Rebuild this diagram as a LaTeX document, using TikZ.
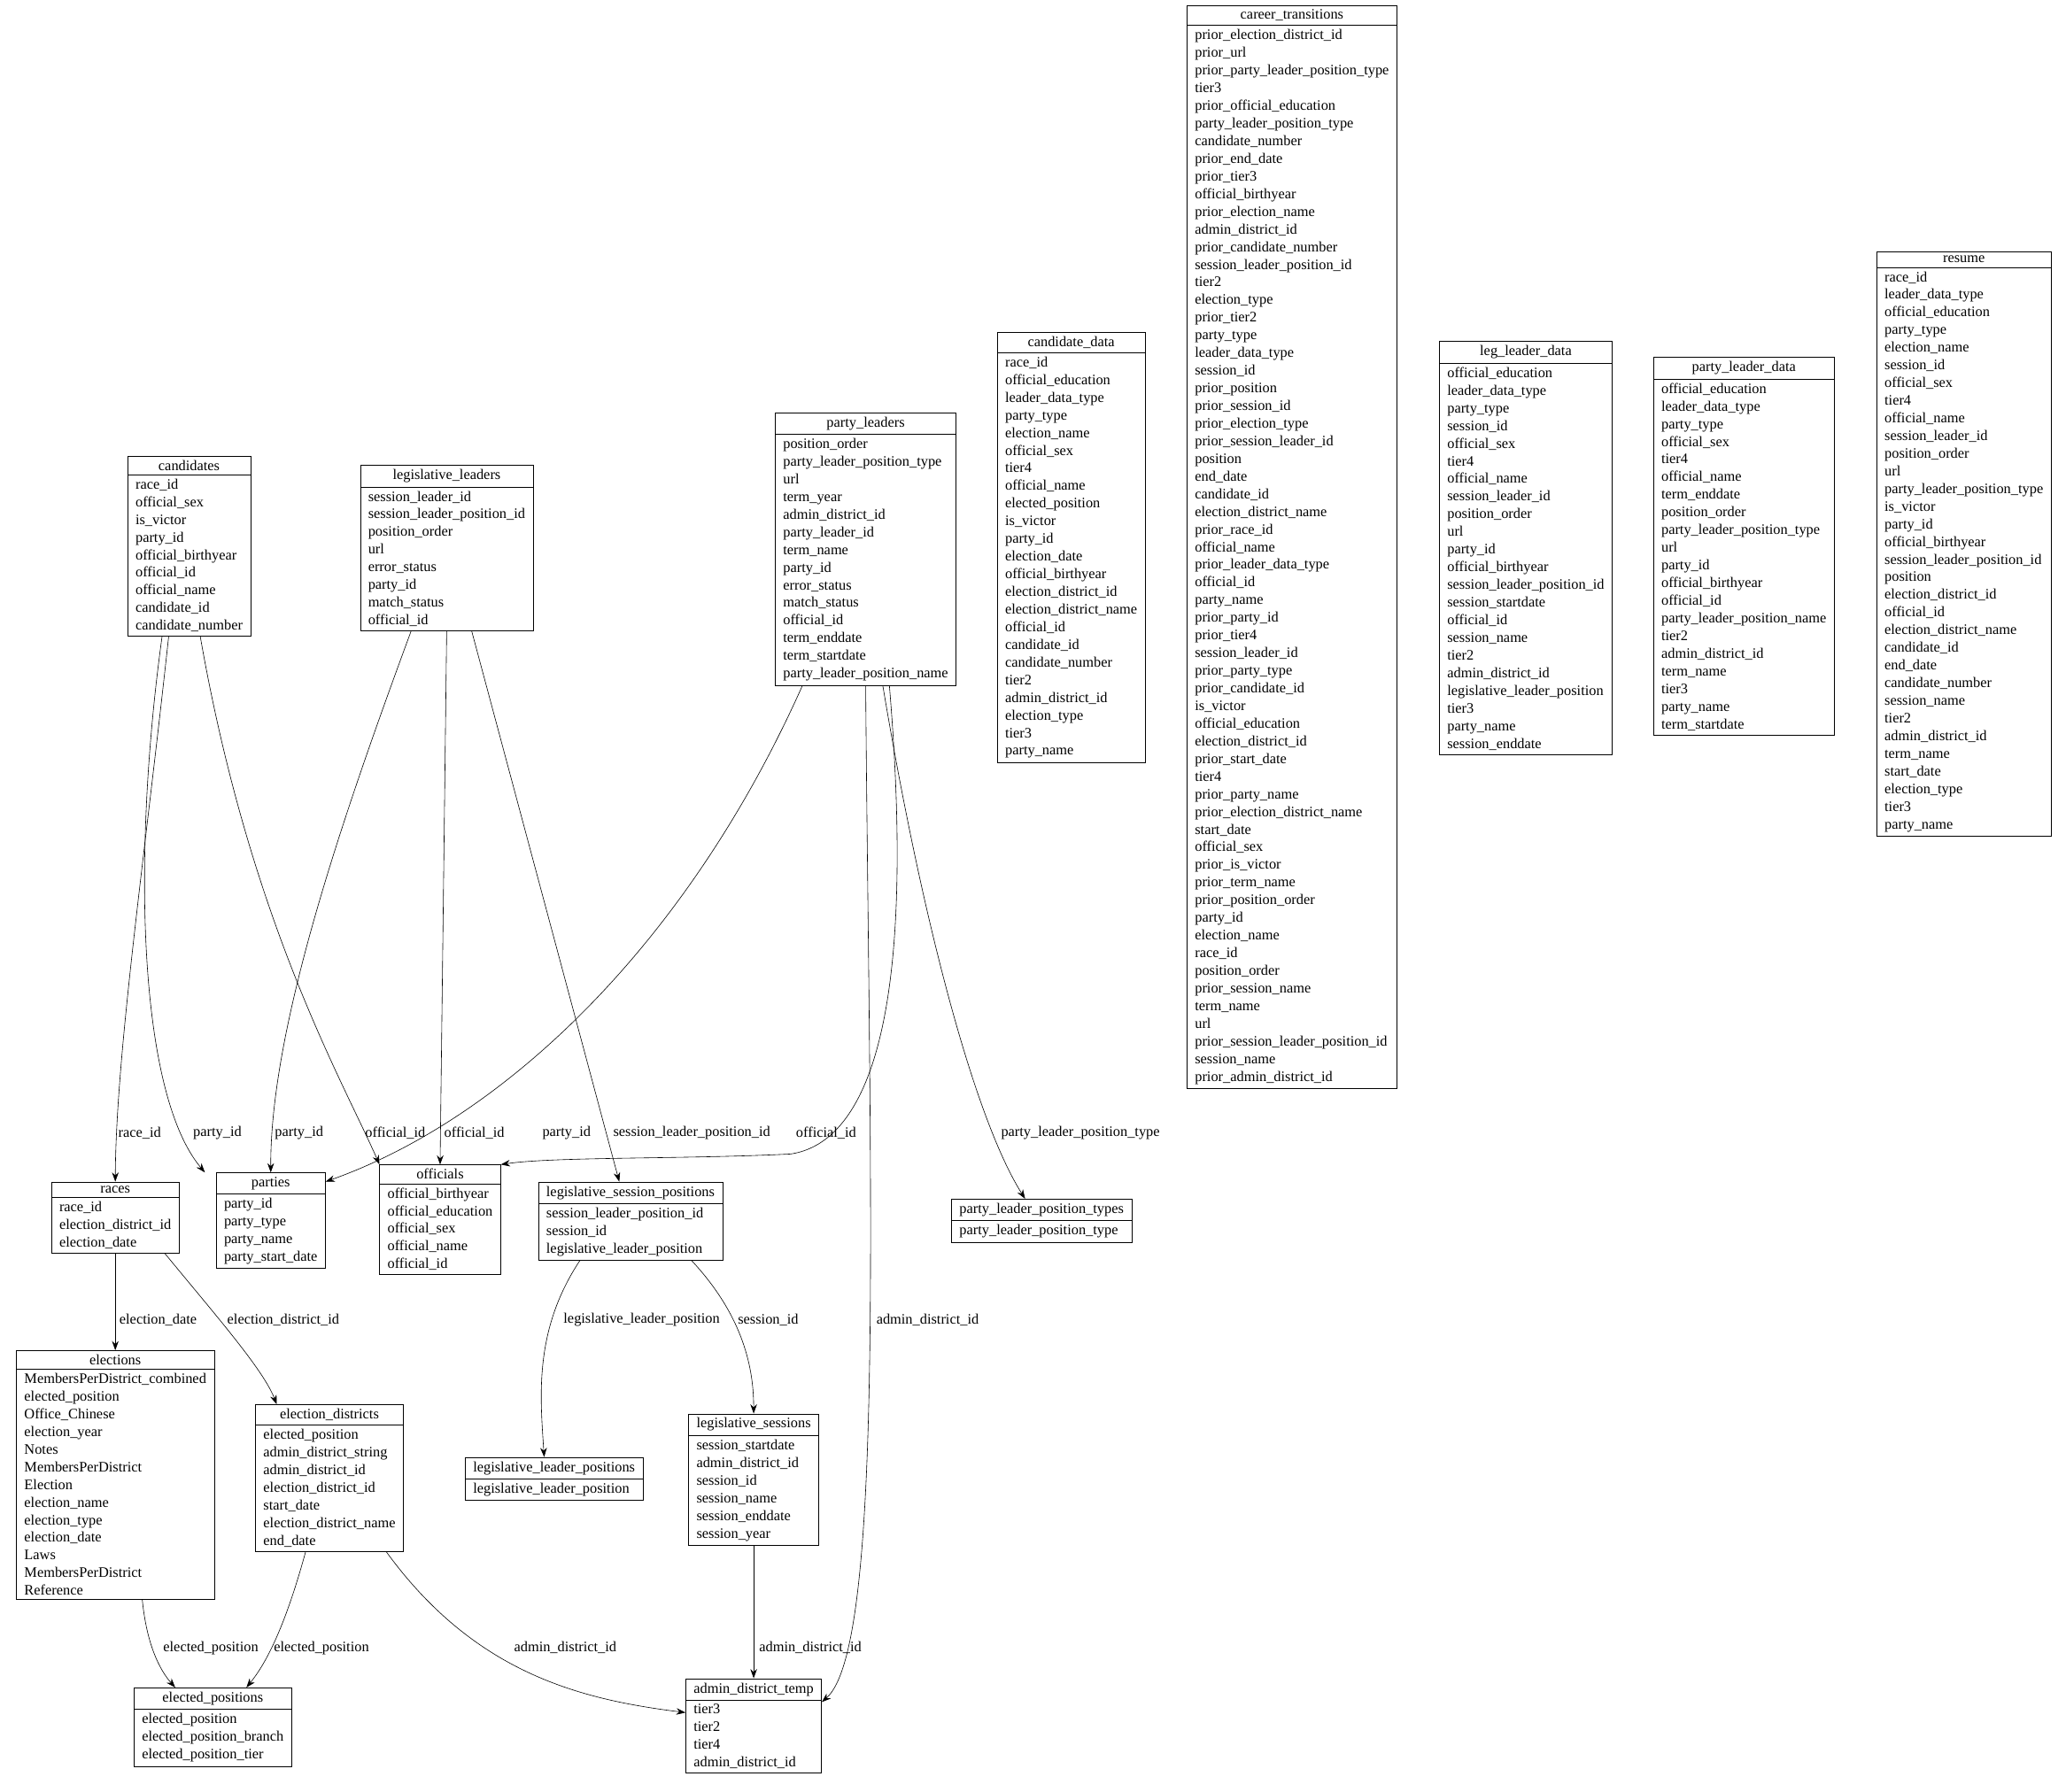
\documentclass[tikz,border=0pt]{standalone}
\usepackage{fontspec}
\setmainfont{Liberation Serif}
\usetikzlibrary{shapes.multipart,arrows.meta}
\tikzset{
  tbl/.style={draw, anchor=north, rectangle split, rectangle split parts=2,
    rectangle split part align={center,left}, align=left, inner xsep=6pt,
    inner ysep=3pt, font=\fontsize{11}{13.4}\selectfont},
  fk/.style={-{Stealth[length=7pt,width=5pt]}},
  lbl/.style={font=\fontsize{11}{13}\selectfont, inner sep=1pt}
}
\newcommand\tbl[5]{\node[tbl] (#1) at (#2,#3) {#4\nodepart{two}#5};}
\begin{document}
\begin{tikzpicture}[x=1pt,y=-1pt]
\useasboundingbox (0,0) rectangle (1568,1360);
% tables
\tbl{candidates}{143.5}{346}{candidates}{race\_id\\official\_sex\\is\_victor\\party\_id\\official\_birthyear\\official\_id\\official\_name\\candidate\_id\\candidate\_number}
\tbl{legleaders}{339}{353}{legislative\_leaders}{session\_leader\_id\\session\_leader\_position\_id\\position\_order\\url\\error\_status\\party\_id\\match\_status\\official\_id}
\tbl{partyleaders}{657}{313}{party\_leaders}{position\_order\\party\_leader\_position\_type\\url\\term\_year\\admin\_district\_id\\party\_leader\_id\\term\_name\\party\_id\\error\_status\\match\_status\\official\_id\\term\_enddate\\term\_startdate\\party\_leader\_position\_name}
\tbl{canddata}{813}{252}{candidate\_data}{race\_id\\official\_education\\leader\_data\_type\\party\_type\\election\_name\\official\_sex\\tier4\\official\_name\\elected\_position\\is\_victor\\party\_id\\election\_date\\official\_birthyear\\election\_district\_id\\election\_district\_name\\official\_id\\candidate\_id\\candidate\_number\\tier2\\admin\_district\_id\\election\_type\\tier3\\party\_name}
\tbl{careertrans}{980.5}{4}{career\_transitions}{prior\_election\_district\_id\\prior\_url\\prior\_party\_leader\_position\_type\\tier3\\prior\_official\_education\\party\_leader\_position\_type\\candidate\_number\\prior\_end\_date\\prior\_tier3\\official\_birthyear\\prior\_election\_name\\admin\_district\_id\\prior\_candidate\_number\\session\_leader\_position\_id\\tier2\\election\_type\\prior\_tier2\\party\_type\\leader\_data\_type\\session\_id\\prior\_position\\prior\_session\_id\\prior\_election\_type\\prior\_session\_leader\_id\\position\\end\_date\\candidate\_id\\election\_district\_name\\prior\_race\_id\\official\_name\\prior\_leader\_data\_type\\official\_id\\party\_name\\prior\_party\_id\\prior\_tier4\\session\_leader\_id\\prior\_party\_type\\prior\_candidate\_id\\is\_victor\\official\_education\\election\_district\_id\\prior\_start\_date\\tier4\\prior\_party\_name\\prior\_election\_district\_name\\start\_date\\official\_sex\\prior\_is\_victor\\prior\_term\_name\\prior\_position\_order\\party\_id\\election\_name\\race\_id\\position\_order\\prior\_session\_name\\term\_name\\url\\prior\_session\_leader\_position\_id\\session\_name\\prior\_admin\_district\_id}
\tbl{legleaderdata}{1158}{259}{leg\_leader\_data}{official\_education\\leader\_data\_type\\party\_type\\session\_id\\official\_sex\\tier4\\official\_name\\session\_leader\_id\\position\_order\\url\\party\_id\\official\_birthyear\\session\_leader\_position\_id\\session\_startdate\\official\_id\\session\_name\\tier2\\admin\_district\_id\\legislative\_leader\_position\\tier3\\party\_name\\session\_enddate}
\tbl{partyleaderdata}{1323.5}{271}{party\_leader\_data}{official\_education\\leader\_data\_type\\party\_type\\official\_sex\\tier4\\official\_name\\term\_enddate\\position\_order\\party\_leader\_position\_type\\url\\party\_id\\official\_birthyear\\official\_id\\party\_leader\_position\_name\\tier2\\admin\_district\_id\\term\_name\\tier3\\party\_name\\term\_startdate}
\tbl{resume}{1490.5}{191}{resume}{race\_id\\leader\_data\_type\\official\_education\\party\_type\\election\_name\\session\_id\\official\_sex\\tier4\\official\_name\\session\_leader\_id\\position\_order\\url\\party\_leader\_position\_type\\is\_victor\\party\_id\\official\_birthyear\\session\_leader\_position\_id\\position\\election\_district\_id\\official\_id\\election\_district\_name\\candidate\_id\\end\_date\\candidate\_number\\session\_name\\tier2\\admin\_district\_id\\term\_name\\start\_date\\election\_type\\tier3\\party\_name}
\tbl{races}{87.5}{897}{races}{race\_id\\election\_district\_id\\election\_date}
\tbl{parties}{205.5}{890}{parties}{party\_id\\party\_type\\party\_name\\party\_start\_date}
\tbl{officials}{334}{884}{officials}{official\_birthyear\\official\_education\\official\_sex\\official\_name\\official\_id}
\tbl{lsp}{478.5}{897}{legislative\_session\_positions}{session\_leader\_position\_id\\session\_id\\legislative\_leader\_position}
\tbl{plpt}{790.5}{910}{party\_leader\_position\_types}{party\_leader\_position\_type}
\tbl{elections}{87.5}{1025}{elections}{MembersPerDistrict\_combined\\elected\_position\\Office\_Chinese\\election\_year\\Notes\\MembersPerDistrict\\Election\\election\_name\\election\_type\\election\_date\\Laws\\MembersPerDistrict\\Reference}
\tbl{edistricts}{250}{1066}{election\_districts}{elected\_position\\admin\_district\_string\\admin\_district\_id\\election\_district\_id\\start\_date\\election\_district\_name\\end\_date}
\tbl{llp}{420.5}{1106}{legislative\_leader\_positions}{legislative\_leader\_position}
\tbl{lsessions}{572}{1073}{legislative\_sessions}{session\_startdate\\admin\_district\_id\\session\_id\\session\_name\\session\_enddate\\session\_year}
\tbl{epositions}{161.5}{1281}{elected\_positions}{elected\_position\\elected\_position\_branch\\elected\_position\_tier}
\tbl{admin}{572}{1274}{admin\_district\_temp}{tier3\\tier2\\tier4\\admin\_district\_id}

% references
\draw[fk] ([xshift=-15.5pt]candidates.south) .. controls (110,650) and (88,800) .. (races.north);
\draw[fk] ([xshift=-20.5pt]candidates.south) .. controls (100,650) and (105,830) .. ([xshift=-50pt]parties.north);
\draw[fk] ([xshift=8.5pt]candidates.south) .. controls (190,700) and (260,820) .. ([xshift=-46pt]officials.north);
\draw[fk] ([xshift=-27pt]legleaders.south) .. controls (260,620) and (205,780) .. (parties.north);
\draw[fk] (legleaders.south) -- (officials.north);
\draw[fk] ([xshift=19pt]legleaders.south) -- ([xshift=-8.5pt]lsp.north);
\draw[fk] ([xshift=-48pt]partyleaders.south) .. controls (520,720) and (380,850) .. ([yshift=-7pt]parties.north east);
\draw[fk] ([xshift=18pt]partyleaders.south) .. controls (700,820) and (640,870) .. (600,876) .. controls (520,880) and (420,878) .. (officials.north east);
\draw[fk] ([xshift=13pt]partyleaders.south) .. controls (700,700) and (740,850) .. ([xshift=-12.5pt]plpt.north);
\draw[fk] (partyleaders.south) .. controls (660,900) and (672,1250) .. ([yshift=-18pt]admin.north east);
\draw[fk] (races.south) -- (elections.north);
\draw[fk] ([xshift=37.5pt]races.south) .. controls (165,1000) and (200,1040) .. ([xshift=-40pt]edistricts.north);
\draw[fk] ([xshift=-38.5pt]lsp.south) .. controls (405,1010) and (410,1060) .. ([xshift=-7.5pt]llp.north);
\draw[fk] ([xshift=46.5pt]lsp.south) .. controls (565,1000) and (572,1040) .. (lsessions.north);
\draw[fk] ([xshift=20.5pt]elections.south) .. controls (112,1255) and (125,1272) .. ([xshift=-28.5pt]epositions.north);
\draw[fk] ([xshift=-18pt]edistricts.south) .. controls (215,1240) and (200,1265) .. ([xshift=25.5pt]epositions.north);
\draw[fk] ([xshift=43pt]edistricts.south) .. controls (360,1270) and (440,1290) .. ([yshift=-26pt]admin.north west);
\draw[fk] (lsessions.south) -- (admin.north);

% labels
\node[lbl] (l1) at (106,860) {race\_id};
\node[lbl] (l2) at (165,860) {party\_id};
\node[lbl] (l3) at (227,860) {party\_id};
\node[lbl] (l4) at (300,860) {official\_id};
\node[lbl] (l5) at (360,860) {official\_id};
\node[lbl] (l6) at (430,860) {party\_id};
\node[lbl] (l7) at (525,860) {session\_leader\_position\_id};
\node[lbl] (l8) at (627,860) {official\_id};
\node[lbl] (l9) at (820,860) {party\_leader\_position\_type};
\node[lbl] (l10) at (704,1002) {admin\_district\_id};
\node[lbl] (l11) at (120,1002) {election\_date};
\node[lbl] (l12) at (215,1002) {election\_district\_id};
\node[lbl] (l13) at (487,1002) {legislative\_leader\_position};
\node[lbl] (l14) at (583,1002) {session\_id};
\node[lbl] (l15) at (160,1251) {elected\_position};
\node[lbl] (l16) at (244,1251) {elected\_position};
\node[lbl] (l17) at (429,1251) {admin\_district\_id};
\node[lbl] (l18) at (615,1251) {admin\_district\_id};
\end{tikzpicture}
\end{document}
